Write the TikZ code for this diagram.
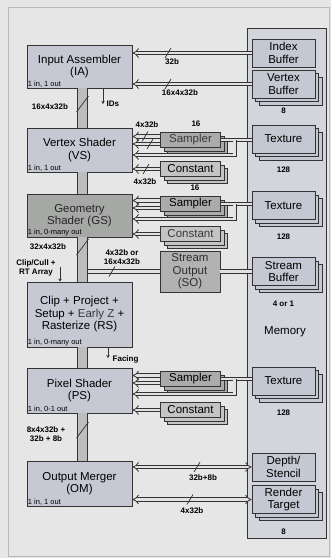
\documentclass[tikz,border=0pt]{standalone}
\usepackage{fontspec}
\setmainfont{Liberation Sans}
\usetikzlibrary{arrows.meta,shadows,calc,positioning}

\definecolor{pagebg}{HTML}{E6E6E6}
\definecolor{stagefill}{HTML}{C6C9D3}
\definecolor{gsfill}{HTML}{A6A8A6}
\definecolor{memfill}{HTML}{D2D5DC}
\definecolor{bufffill}{HTML}{C4C8D2}
\definecolor{unitfill}{HTML}{ABABAB}
\definecolor{constfill}{HTML}{C4C4C4}
\definecolor{sofill}{HTML}{B2B2B2}
\definecolor{linecol}{HTML}{333333}
\definecolor{pipefill}{HTML}{BDBDBD}
\definecolor{busfill}{HTML}{E2E2E2}

\newcommand{\busmark}[1]{\draw[slashmark] (#1) +(-3,5) -- +(3,-5);}
\newcommand{\pipemark}[1]{\draw[slashmark] (#1) +(-6,8) -- +(6,-8);}

\begin{document}
\begin{tikzpicture}[x=1pt, y=-1pt,
    every node/.style={inner sep=1pt, align=center},
    boxfont/.style={font=\fontsize{11.5}{12.5}\selectfont},
    stage/.style={rectangle, draw=linecol, line width=0.9pt, fill=stagefill, minimum width=105pt, boxfont},
    membox/.style={rectangle, draw=linecol, line width=0.8pt, fill=bufffill, minimum width=63pt, minimum height=28pt, boxfont},
    stack/.style={double copy shadow={shadow xshift=3.5pt, shadow yshift=-3.5pt}},
    unit/.style={rectangle, draw=linecol, line width=0.8pt, fill=unitfill, minimum width=60pt, minimum height=15pt, boxfont, stack},
    note/.style={font=\fontsize{7.5}{8}\selectfont, inner sep=1.2pt},
    buslabel/.style={font=\fontsize{8}{8.5}\selectfont\bfseries, inner sep=0.5pt},
    bus/.style={draw=linecol, line width=0.75pt, double=busfill, double distance=2.6pt},
    busin/.style={bus, -{Implies[scale=1.2]}},
    busboth/.style={bus, {Implies[scale=1.2]}-{Implies[scale=1.2]}},
    pipe/.style={draw=linecol, line width=0.8pt, double=pipefill, double distance=9pt},
    tick/.style={draw=linecol, line width=0.8pt, -{Stealth[length=3pt,width=3.5pt]}},
    slashmark/.style={draw=linecol, line width=0.7pt}]

    \useasboundingbox (0,0) rectangle (331,558);
    \fill[pagebg] (0,0) rectangle (331,558);
    \draw[gray!55, line width=0.8pt] (8,7) rectangle (329,556);

    \node (mem) [rectangle, draw=linecol, line width=0.9pt, fill=memfill, minimum width=79pt, minimum height=510pt] at (286.5,283) {};
    \node (memlbl) [boxfont] at (285,332) {Memory};

    \node (ib) [membox] at (283.5,53) {Index\\Buffer};
    \node (vb) [membox, stack] at (283.5,84) {Vertex\\Buffer};
    \node (tex1) [membox, stack] at (283.5,139) {Texture};
    \node (tex2) [membox, stack] at (283.5,205.5) {Texture};
    \node (sb) [membox, stack] at (283.5,271.5) {Stream\\Buffer};
    \node (tex3) [membox, stack] at (283.5,381) {Texture};
    \node (ds) [membox] at (283.5,467) {Depth/\\Stencil};
    \node (rt) [membox, stack] at (283.5,499.5) {Render\\Target};

    \node (vbn) [buslabel, below=9pt of vb] {8};
    \node (tex1n) [buslabel, below=13pt of tex1] {128};
    \node (tex2n) [buslabel, below=13pt of tex2] {128};
    \node (sbn) [buslabel, below=14pt of sb] {4 or 1};
    \node (tex3n) [buslabel, below=14pt of tex3] {128};
    \node (rtn) [buslabel, below=14pt of rt] {8};

    \node (ia) [stage, minimum height=43pt] at (79.5,66.5) {Input Assembler\\(IA)};
    \node (vs) [stage, minimum height=44pt] at (79.5,150) {Vertex Shader\\(VS)};
    \node (gs) [stage, fill=gsfill, text=gray!30!black, minimum height=43pt] at (79.5,215.5) {Geometry\\Shader (GS)};
    \node (rs) [stage, minimum height=65pt] at (79.5,314.5) {Clip + Project +\\Setup + \textcolor{gray!45!black}{Early Z} +\\Rasterize (RS)};
    \node (ps) [stage, minimum height=45pt] at (79.5,390.5) {Pixel Shader\\(PS)};
    \node (om) [stage, minimum height=45pt] at (79.5,483.5) {Output Merger\\(OM)};

    \node (ianote) [note, anchor=south west] at (ia.south west) {1 in, 1 out};
    \node (vsnote) [note, anchor=south west] at (vs.south west) {1 in, 1 out};
    \node (gsnote) [note, anchor=south west] at (gs.south west) {1 in, 0-many out};
    \node (rsnote) [note, anchor=south west] at (rs.south west) {1 in, 0-many out};
    \node (psnote) [note, anchor=south west] at (ps.south west) {1 in, 0-1 out};
    \node (omnote) [note, anchor=south west] at (om.south west) {1 in, 1 out};

    \node (s1) [unit, text=gray!45!black] at (190.5,140) {Sampler};
    \node (c1) [unit, fill=constfill] at (190.5,169) {Constant};
    \node (s2) [unit] at (190.5,204) {Sampler};
    \node (c2) [unit, fill=constfill, text=gray!45!black] at (190.5,234) {Constant};
    \node (so) [rectangle, draw=linecol, line width=0.8pt, fill=sofill, minimum width=60pt, minimum height=41pt, boxfont, text=gray!35!black] at (190,271.5) {Stream\\Output\\(SO)};
    \node (s3) [unit] at (190.5,379) {Sampler};
    \node (c3) [unit, fill=constfill] at (190.5,410) {Constant};

    \draw[busin] (ib.west) -- (ib.west -| ia.east);
    \draw[busin] (vb.west) -- (vb.west -| ia.east);

    \draw[bus] (s1.east) -- (s1.east -| tex1.west);
    \draw[busin] ([yshift=3.5pt]s1.west) -- ([yshift=3.5pt]s1.west -| vs.east);
    \draw[busin] ([yshift=-4pt]s1.west) -- ([yshift=-4pt]s1.west -| vs.east);
    \coordinate (vsload) at ($(s1.east)!0.45!(s1.east -| tex1.west)$);
    \draw[busin] (vsload) |- ($(vs.east)+(0,5)$);
    \draw[busin] (c1.west) -- (c1.west -| vs.east);

    \draw[bus] (s2.east) -- (s2.east -| tex2.west);
    \draw[busin] ([yshift=3.5pt]s2.west) -- ([yshift=3.5pt]s2.west -| gs.east);
    \draw[busin] ([yshift=-4pt]s2.west) -- ([yshift=-4pt]s2.west -| gs.east);
    \coordinate (gsload) at ($(s2.east)!0.45!(s2.east -| tex2.west)$);
    \draw[busin] (gsload) |- ($(gs.east)+(0,3.5)$);
    \draw[busin] (c2.west) -- (c2.west -| gs.east);

    \draw[bus] (s3.east) -- (s3.east -| tex3.west);
    \draw[busin] ([yshift=3.5pt]s3.west) -- ([yshift=3.5pt]s3.west -| ps.east);
    \draw[busin] ([yshift=-4pt]s3.west) -- ([yshift=-4pt]s3.west -| ps.east);
    \coordinate (psload) at ($(s3.east)!0.45!(s3.east -| tex3.west)$);
    \draw[busin] (psload) |- ($(ps.east)+(0,3.5)$);
    \draw[busin] (c3.west) -- (c3.west -| ps.east);

    \draw[busboth] (ds.west) -- (ds.west -| om.east);
    \draw[busboth] (rt.west) -- (rt.west -| om.east);

    \draw[bus] (so.west) -- (so.west -| gs.south);
    \draw[bus] (so.east) -- (so.east -| sb.west);

    \draw[pipe] ([xshift=3pt]ia.south) -- ([xshift=3pt]vs.north);
    \draw[pipe] ([xshift=3pt]vs.south) -- ([xshift=3pt]gs.north);
    \draw[pipe] ([xshift=3pt]gs.south) -- ([xshift=3pt]rs.north);
    \draw[pipe] ([xshift=3pt]rs.south) -- ([xshift=3pt]ps.north);
    \draw[pipe] ([xshift=3pt]ps.south) -- ([xshift=3pt]om.north);

    \busmark{168,53}
    \busmark{168,84}
    \busmark{145,136.5}
    \busmark{150,144}
    \busmark{146,169}
    \busmark{112,271.5}
    \busmark{197,467}
    \busmark{190,499.5}
    \pipemark{82.5,104}
    \pipemark{82.5,247}
    \pipemark{82.5,430}

    \node (ibw) [buslabel] at (172,62) {32b};
    \node (vbw) [buslabel] at (180,93) {16x4x32b};
    \node (s1n) [buslabel] at (196,124) {16};
    \node (vsin) [buslabel] at (147,125) {4x32b};
    \node (vsc) [buslabel] at (145,182) {4x32b};
    \node (c1n) [buslabel] at (195,188) {16};
    \node (iaout) [buslabel] at (50,107) {16x4x32b};
    \node (gsout) [buslabel] at (48,247) {32x4x32b};
    \node (sow) [buslabel] at (122,257) {4x32b or\\16x4x32b};
    \node (psout) [buslabel] at (46,434) {8x4x32b +\\32b + 8b};
    \node (dsw) [buslabel] at (203,478) {32b+8b};
    \node (rtw) [buslabel] at (192,511) {4x32b};

    \coordinate (idsend) at (103,104);
    \draw[tick] (idsend |- ia.south) -- (idsend);
    \node (ids) [buslabel, anchor=west] at (106,104) {IDs};

    \node (clip) [buslabel] at (36,268) {Clip/Cull +\\RT Array};
    \coordinate (clipstart) at (60,267);
    \draw[tick] (clipstart) -- (clipstart |- rs.north);

    \coordinate (facingend) at (108,358);
    \draw[tick] (facingend |- rs.south) -- (facingend);
    \node (facing) [buslabel, anchor=west] at (112,359) {Facing};
\end{tikzpicture}
\end{document}
